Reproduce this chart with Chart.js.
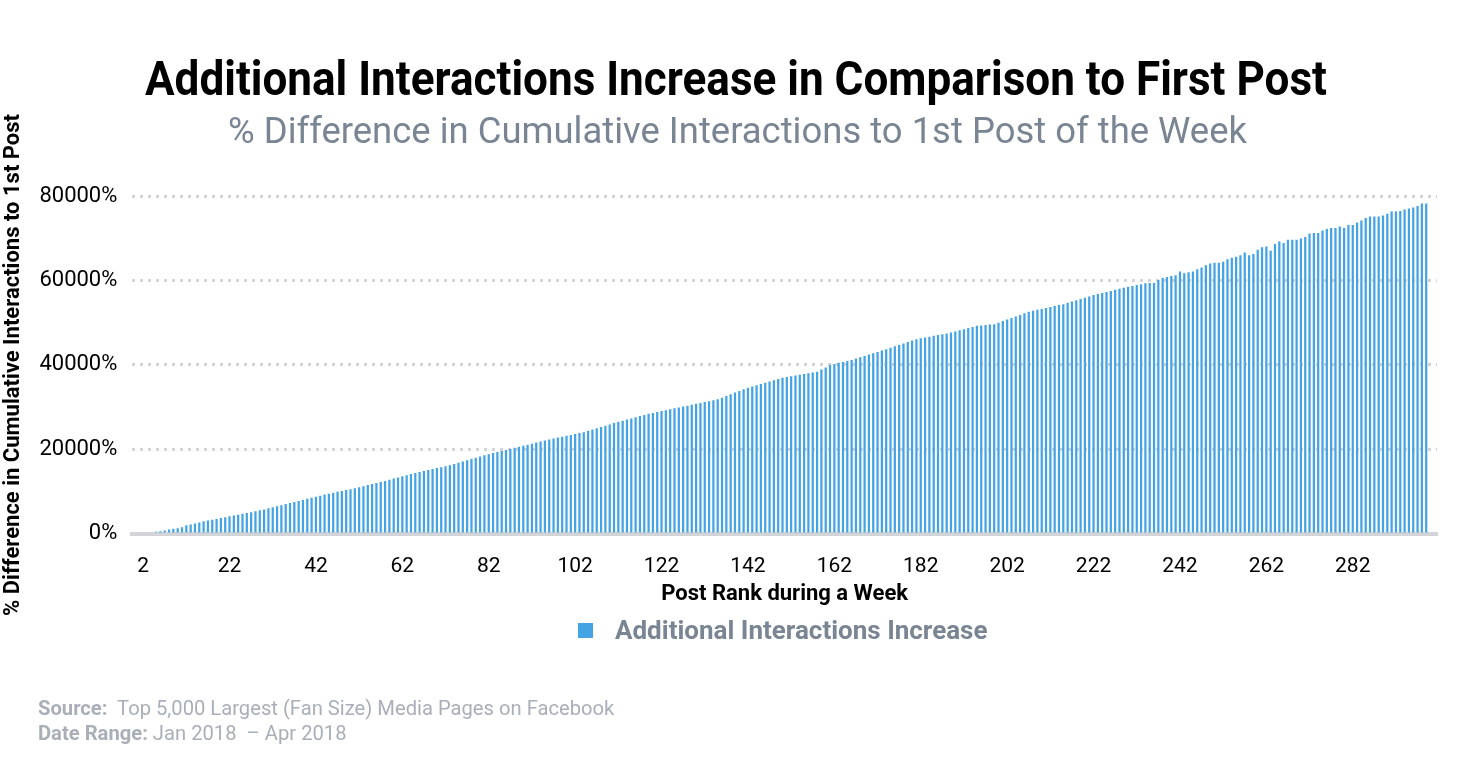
<!DOCTYPE html>
<html>
<head>
<meta charset="utf-8">
<script src="https://cdn.jsdelivr.net/npm/chart.js@4.4.1/dist/chart.umd.min.js"></script>
<style>
  html, body { margin:0; padding:0; background:#fff; }
  #wrap { position:relative; width:1460px; height:783px; }
  #note { position:absolute; left:38px; top:696px; font-family:Roboto, sans-serif; font-size:20.2px; color:#a9afb9; line-height:25px; }
  #note b { font-weight:700; }
</style>
</head>
<body>
<div id="wrap">
  <canvas id="c" width="1460" height="783"></canvas>
  <div id="note"><b>Source:</b>&nbsp; Top 5,000 Largest (Fan Size) Media Pages on Facebook<br><b>Date Range:</b> Jan 2018&nbsp; – Apr 2018</div>
</div>
<script>
const titleText = 'Additional Interactions Increase in Comparison to First Post';
const subtitleText = '% Difference in Cumulative Interactions to 1st Post of the Week';
const xAxisTitle = 'Post Rank during a Week';
const yAxisTitle = '% Difference in Cumulative Interactions to 1st Post';
const seriesName = 'Additional Interactions Increase';
const yTicks = [0, 20000, 40000, 60000, 80000];

// post rank categories (index positions on the axis)
const postRanks = [];
for (let r = 0; r <= 301; r++) postRanks.push(r);

// % difference values (rank 0..301)
const additionalIncrease = [
  0,0,0,0,0,500,600,800,1070,1200,
  1350,1600,2020,2200,2450,2700,2970,3150,3350,3550,
  3750,3950,4150,4350,4550,4750,4950,5150,5350,5580,
  5800,6060,6300,6550,6800,7050,7310,7550,7800,8050,
  8300,8550,8800,9050,9300,9500,9750,9950,10150,10400,
  10600,10820,11040,11300,11550,11800,12050,12300,12550,12800,
  13100,13350,13650,13900,14180,14430,14650,14900,15120,15350,
  15580,15800,16030,16260,16550,16850,17150,17450,17750,18050,
  18330,18630,18880,19130,19380,19620,19870,20120,20370,20620,
  20870,21120,21370,21610,21860,22110,22360,22580,22800,23010,
  23230,23440,23660,23880,24090,24400,24700,25010,25310,25620,
  25930,26230,26540,26810,27080,27350,27630,27900,28170,28440,
  28650,28870,29080,29300,29510,29720,29940,30150,30360,30580,
  30790,31010,31220,31430,31650,31860,32250,32650,33050,33450,
  33850,34230,34610,34910,35200,35500,35800,36100,36400,36700,
  36990,37170,37350,37520,37700,37880,38060,38230,38410,38900,
  39400,40000,40250,40500,40700,40950,41180,41500,41820,42130,
  42450,42770,43080,43400,43720,44060,44400,44740,45080,45420,
  45760,46100,46300,46490,46690,46890,47080,47280,47470,47670,
  47940,48200,48470,48730,49000,49260,49350,49450,49550,49650,
  50020,50380,50750,51120,51480,51850,52220,52580,52810,53040,
  53260,53490,53720,53940,54170,54400,54710,55010,55320,55620,
  55930,56230,56540,56790,57040,57280,57530,57780,58020,58270,
  58520,58720,58930,59130,59330,59400,59400,60100,60570,60800,
  61040,61220,62150,61700,61960,62150,62630,63100,63580,64010,
  64220,64220,64460,65020,65400,65600,66000,66600,66000,66270,
  67300,67860,68030,67060,68650,69200,68890,69670,69670,69670,
  69910,70310,71100,71250,71250,71840,72200,72450,72450,72760,
  72450,73160,73160,73710,74180,74820,75130,75130,75130,75370,
  75770,76310,76310,76470,76790,77020,77260,77660,78220,78220,
  null,null
];

const BLUE = '#43a3e3';
const GRAY_TEXT = '#7a8594';

// Draws the condensed title/subtitle and the legend row
const headerAndLegend = {
  id: 'headerAndLegend',
  afterDraw(chart) {
    const ctx = chart.ctx;
    const fitText = (text, font, color, cx, baseline, targetW) => {
      ctx.save();
      ctx.font = font;
      ctx.fillStyle = color;
      ctx.textBaseline = 'alphabetic';
      ctx.textAlign = 'center';
      const w = ctx.measureText(text).width;
      const s = Math.min(1, targetW / w);
      ctx.translate(cx, baseline);
      ctx.scale(s, 1);
      ctx.fillText(text, 0, 0);
      ctx.restore();
    };
    fitText(titleText, "bold 49px Roboto, sans-serif", '#000', 736, 95, 1182);
    fitText(subtitleText, "36.6px Roboto, sans-serif", GRAY_TEXT, 737.5, 143, 1019);

    // legend
    const ds = chart.data.datasets[0];
    ctx.save();
    ctx.fillStyle = ds.backgroundColor;
    ctx.fillRect(578, 623, 15, 15);
    ctx.font = "bold 26px Roboto, sans-serif";
    ctx.fillStyle = GRAY_TEXT;
    ctx.textAlign = 'left';
    ctx.textBaseline = 'middle';
    ctx.fillText(ds.label, 615, 632);
    ctx.restore();
  }
};

new Chart(document.getElementById('c'), {
  type: 'bar',
  data: {
    labels: postRanks,
    datasets: [{
      label: seriesName,
      data: additionalIncrease,
      backgroundColor: BLUE,
      borderWidth: 0,
      barPercentage: 0.52,
      categoryPercentage: 1.0
    }]
  },
  plugins: [headerAndLegend],
  options: {
    responsive: false,
    animation: false,
    layout: { padding: { top: 196, left: 0, right: 23, bottom: 175.5 } },
    plugins: {
      title: { display: false },
      subtitle: { display: false },
      legend: { display: false },
      tooltip: { enabled: false }
    },
    scales: {
      x: {
        grid: { display: false, drawTicks: false },
        border: { display: true, color: '#d2d4d8', width: 4 },
        ticks: {
          autoSkip: false, maxRotation: 0, minRotation: 0,
          color: '#000', padding: 20,
          font: { family: "Roboto, sans-serif", size: 21 },
          callback: function(v, i) {
            const r = postRanks[i];
            return (r >= 2 && (r - 2) % 20 === 0 && r < 300) ? String(r) : '';
          }
        },
        title: {
          display: true, text: xAxisTitle, color: '#000',
          font: { family: "Roboto, sans-serif", size: 22, weight: 'bold' },
          padding: { top: -18, bottom: 0 }
        }
      },
      y: {
        min: 0, max: 80000,
        afterBuildTicks: (axis) => { axis.ticks = yTicks.map(v => ({ value: v })); },
        grid: { color: '#d3d4d9', lineWidth: 3, drawTicks: false },
        border: { display: false, dash: [3, 5] },
        ticks: {
          color: '#000', padding: 15,
          font: { family: "Roboto, sans-serif", size: 22 },
          callback: v => v + '%'
        },
        title: {
          display: true, text: yAxisTitle, color: '#000',
          font: { family: "Roboto, sans-serif", size: 22, weight: 'bold' },
          padding: { top: 0, bottom: -2 }
        }
      }
    }
  }
});
</script>
</body>
</html>
